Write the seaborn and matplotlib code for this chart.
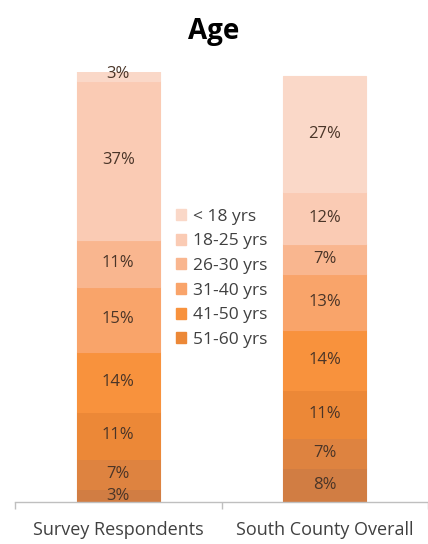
import matplotlib
matplotlib.use("Agg")
import matplotlib.pyplot as plt
import matplotlib.patches as mpatches
import seaborn as sns
import numpy as np

# Age brackets, top of each stack first
age_groups = ["< 18 yrs", "18-25 yrs", "26-30 yrs", "31-40 yrs",
              "41-50 yrs", "51-60 yrs", "61-70 yrs", "71+ yrs"]
populations = ["Survey Respondents", "South County Overall"]
survey_pct = [3, 37, 11, 15, 14, 11, 7, 3]
county_pct = [27, 12, 7, 13, 14, 11, 7, 8]
legend_shown = 6

seg_colors = ["#FAD8C8", "#FACBB4", "#F9B68F", "#F9A46A",
              "#F8923D", "#EC8837", "#DE8340", "#D17D43"]

sns.set_theme(style="white")
plt.rcParams["font.family"] = ["Open Sans", "DejaVu Sans"]

fig = plt.figure(figsize=(4.28, 5.44), dpi=100)
ax = fig.add_axes([15 / 428, 42 / 544, 413 / 428, 430 / 544])

# Stack from the oldest bracket upward
bottoms = np.zeros(len(populations))
for i in reversed(range(len(age_groups))):
    vals = np.array([survey_pct[i], county_pct[i]], dtype=float)
    sns.barplot(x=populations, y=vals, bottom=bottoms, color=seg_colors[i],
                width=0.40, ax=ax, saturation=1, linewidth=0.8,
                edgecolor=seg_colors[i])
    for j, v in enumerate(vals):
        ax.text(j, bottoms[j] + v / 2, f"{int(v)}%", ha="center", va="center",
                fontsize=12, color="#4A3528")
    bottoms += vals

ax.set_ylim(0, 100)
ax.set_xlim(-0.5, 1.5)
ax.set_yticks([])
for s in ["top", "right", "left"]:
    ax.spines[s].set_visible(False)
ax.spines["bottom"].set_color("#BFBFBF")
ax.spines["bottom"].set_linewidth(1.0)
ax.set_xticks([0, 1])
ax.set_xticklabels(populations, fontsize=13, color="#404040")
ax.tick_params(axis="x", which="major", length=0, pad=14)
ax.set_xticks([-0.5, 0.5, 1.5], minor=True)
ax.tick_params(axis="x", which="minor", length=5, color="#BFBFBF", width=1,
               direction="out", bottom=True)

fig.text(0.5, 1 - 31 / 544, "Age", ha="center", va="center",
         fontsize=20, fontweight="bold", color="#000000")

handles = [mpatches.Patch(color=seg_colors[i], label=age_groups[i])
           for i in range(legend_shown)]
ax.legend(handles=handles, loc="center", bbox_to_anchor=(0.5, 0.52),
          frameon=False, fontsize=12.5, handlelength=0.6, handleheight=0.6,
          handletextpad=0.4, labelspacing=0.5, labelcolor="#404040")

fig.savefig("out.png", dpi=100)
